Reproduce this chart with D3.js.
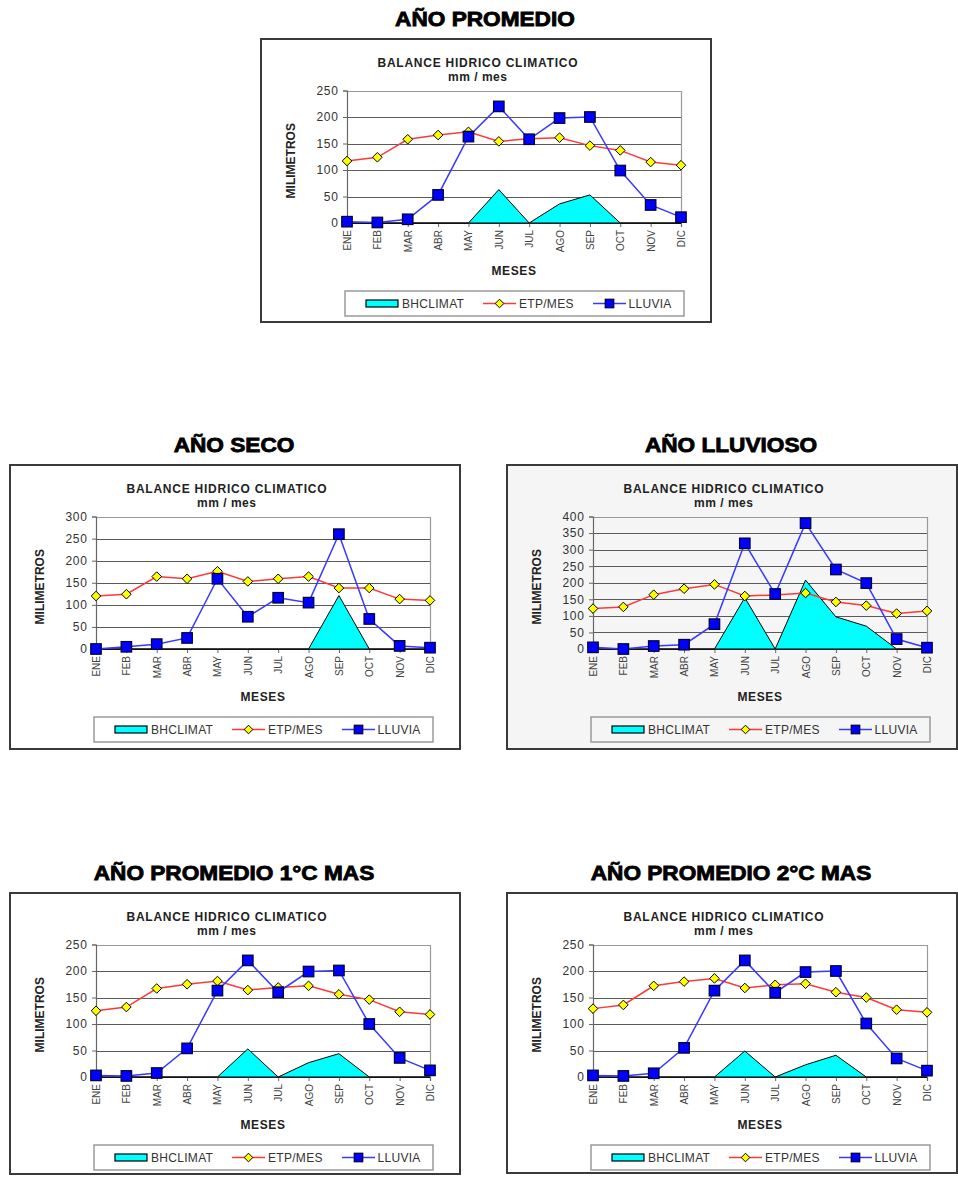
<!DOCTYPE html>
<html>
<head>
<meta charset="utf-8">
<script src="https://cdn.jsdelivr.net/npm/d3@7"></script>
<style>
  html, body { margin: 0; padding: 0; background: #ffffff; }
  svg { display: block; }
  text { font-family: "Liberation Sans", Arial, sans-serif; }
</style>
</head>
<body>
<svg id="chart" width="958" height="1177"></svg>
<script>
// Months (x categories)
const meses = ["ENE", "FEB", "MAR", "ABR", "MAY", "JUN", "JUL", "AGO", "SEP", "OCT", "NOV", "DIC"];

// Año promedio
const promedioETP    = [117, 124, 158, 166, 172, 154, 159, 161, 146, 137, 115, 109];
const promedioLluvia = [2.5, 1, 7, 53, 163, 220, 158, 198, 200, 99, 34, 11];
const promedioBH     = [0, 0, 0, 0, 0, 63, 0, 36, 53, 0, 0, 0];
const promedioTicks  = [0, 50, 100, 150, 200, 250];

// Año seco
const secoETP    = [120, 124, 164, 159, 176, 153, 159, 164, 138, 138, 113, 110];
const secoLluvia = [0, 5, 11, 25, 159, 73, 116, 105, 260, 68, 7, 3];
const secoBH     = [0, 0, 0, 0, 0, 0, 0, 0, 121, 0, 0, 0];
const secoTicks  = [0, 50, 100, 150, 200, 250, 300];

// Año lluvioso
const lluviosoETP    = [122, 127, 164, 182, 195, 160, 163, 169, 142, 131, 107, 115];
const lluviosoLluvia = [5, 0, 9, 13, 75, 319, 166, 380, 240, 199, 30, 4];
const lluviosoBH     = [0, 0, 0, 0, 0, 155, 0, 208, 97, 69, 0, 0];
const lluviosoTicks  = [0, 50, 100, 150, 200, 250, 300, 350, 400];

// Año promedio +1 °C
const mas1ETP    = [125, 132, 167, 175, 181, 164, 169, 172, 156, 146, 123, 118];
const mas1Lluvia = [3, 2, 7.5, 54, 163, 220, 160, 199, 201, 100, 36, 12.5];
const mas1BH     = [0, 0, 0, 0, 0, 53, 0, 27, 44, 0, 0, 0];
const mas1Ticks  = [0, 50, 100, 150, 200, 250];

// Año promedio +2 °C
const mas2ETP    = [129, 136, 172, 180, 186, 168, 174, 176, 160, 150, 127, 122];
const mas2Lluvia = [3, 2, 7, 55, 163, 220, 159, 198, 200, 101, 35, 12];
const mas2BH     = [0, 0, 0, 0, 0, 49, 0, 23, 41, 0, 0, 0];
const mas2Ticks  = [0, 50, 100, 150, 200, 250];

const legendLabels = ["BHCLIMAT", "ETP/MES", "LLUVIA"];

// Panel layout: heading, frame position, data
const panels = [
  { heading: "AÑO PROMEDIO",          x: 261, y: 39,  h: 283, etp: promedioETP, lluvia: promedioLluvia, bh: promedioBH, ticks: promedioTicks, bg: "#ffffff" },
  { heading: "AÑO SECO",              x: 10,  y: 465, h: 284, etp: secoETP,     lluvia: secoLluvia,     bh: secoBH,     ticks: secoTicks,     bg: "#ffffff" },
  { heading: "AÑO LLUVIOSO",          x: 507, y: 465, h: 284, etp: lluviosoETP, lluvia: lluviosoLluvia, bh: lluviosoBH, ticks: lluviosoTicks, bg: "#f5f5f5" },
  { heading: "AÑO PROMEDIO 1°C MAS",  x: 10,  y: 893, h: 281, etp: mas1ETP,     lluvia: mas1Lluvia,     bh: mas1BH,     ticks: mas1Ticks,     bg: "#ffffff" },
  { heading: "AÑO PROMEDIO 2°C MAS",  x: 507, y: 893, h: 280, etp: mas2ETP,     lluvia: mas2Lluvia,     bh: mas2BH,     ticks: mas2Ticks,     bg: "#ffffff" }
];

const svg = d3.select("#chart");
const FRAME_W = 450;

function stretchText(sel, factor) {
  sel.each(function () {
    const len = this.getComputedTextLength();
    d3.select(this).attr("textLength", len * factor).attr("lengthAdjust", "spacingAndGlyphs");
  });
}

function diamond(g, cx, cy, r) {
  g.append("path")
    .attr("d", `M${cx},${cy - r}L${cx + r},${cy}L${cx},${cy + r}L${cx - r},${cy}Z`)
    .attr("fill", "#ffff00").attr("stroke", "#000000").attr("stroke-width", 1);
}

function square(g, cx, cy, s) {
  g.append("rect")
    .attr("x", cx - s / 2).attr("y", cy - s / 2).attr("width", s).attr("height", s)
    .attr("fill", "#0000ff").attr("stroke", "#000033").attr("stroke-width", 1.2);
}

function drawPanel(p) {
  const g = svg.append("g").attr("transform", `translate(${p.x},${p.y})`);

  // heading above the frame
  const head = svg.append("text")
    .attr("x", p.x + FRAME_W / 2 - 1).attr("y", p.y - 13)
    .attr("text-anchor", "middle")
    .attr("font-size", 19.5).attr("font-weight", "bold")
    .attr("fill", "#000").attr("stroke", "#000").attr("stroke-width", 0.8)
    .text(p.heading);
  stretchText(head, 1.16);

  // frame
  g.append("rect").attr("x", 0).attr("y", 0).attr("width", FRAME_W).attr("height", p.h)
    .attr("fill", p.bg).attr("stroke", "#3a3a3a").attr("stroke-width", 2);

  const left = 86, right = 420, top = 51.5, bottom = 184;
  const x = d3.scalePoint().domain(meses).range([left, right]).padding(0);
  const ymax = p.ticks[p.ticks.length - 1];
  const y = d3.scaleLinear().domain([0, ymax]).range([bottom, top]);

  // chart title
  g.append("text").attr("x", 216.5).attr("y", 27.5).attr("text-anchor", "middle")
    .attr("font-size", 12).attr("font-weight", "bold").attr("fill", "#222")
    .attr("textLength", 200).attr("lengthAdjust", "spacing")
    .text("BALANCE HIDRICO CLIMATICO");
  g.append("text").attr("x", 216.5).attr("y", 41.5).attr("text-anchor", "middle")
    .attr("font-size", 12).attr("font-weight", "bold").attr("fill", "#222")
    .attr("textLength", 59).attr("lengthAdjust", "spacing")
    .text("mm / mes");

  // gridlines
  g.append("g").selectAll("line").data(p.ticks.filter(t => t > 0 && t < ymax)).join("line")
    .attr("x1", left).attr("x2", right)
    .attr("y1", d => Math.round(y(d)) + 0.5).attr("y2", d => Math.round(y(d)) + 0.5)
    .attr("stroke", "#5a5a5a").attr("stroke-width", 1);

  // plot border (top / right)
  g.append("path")
    .attr("d", `M${left},${Math.round(top) + 0.5}H${right + 0.5}V${bottom}`)
    .attr("fill", "none").attr("stroke", "#9a9a9a").attr("stroke-width", 1.2);

  // y axis
  const yAxis = d3.axisLeft(y).tickValues(p.ticks).tickSize(4).tickPadding(5).tickFormat(d3.format("d"));
  const ya = g.append("g").attr("transform", `translate(${left},0)`).call(yAxis);
  ya.select(".domain").attr("stroke", "#666").attr("stroke-width", 1.2);
  ya.selectAll(".tick line").attr("stroke", "#666");
  ya.selectAll(".tick text")
    .attr("font-family", "Liberation Sans, Arial, sans-serif")
    .attr("font-size", 12).attr("fill", "#333").attr("letter-spacing", 0.8)
    .attr("x", -9 + 0.8);

  // x axis
  const xAxis = d3.axisBottom(x).tickSize(4).tickPadding(0);
  const xa = g.append("g").attr("transform", `translate(0,${bottom})`).call(xAxis);
  xa.select(".domain").attr("stroke", "#444").attr("stroke-width", 1.2);
  xa.selectAll(".tick line").attr("stroke", "#666");
  xa.selectAll(".tick text")
    .attr("font-family", "Liberation Sans, Arial, sans-serif")
    .attr("font-size", 10).attr("fill", "#444")
    .attr("transform", "rotate(-90)")
    .attr("x", -7).attr("y", 0).attr("dy", "0.35em")
    .attr("text-anchor", "end");

  // axis titles
  g.append("text").attr("x", (left + right) / 2).attr("y", 236).attr("text-anchor", "middle")
    .attr("font-size", 12).attr("font-weight", "bold").attr("fill", "#222").attr("letter-spacing", 0.6)
    .text("MESES");
  g.append("text").attr("transform", `translate(34,${(top + bottom) / 2 + 4}) rotate(-90)`)
    .attr("text-anchor", "middle")
    .attr("font-size", 12).attr("font-weight", "bold").attr("fill", "#222")
    .text("MILIMETROS");

  // BHCLIMAT area
  const area = d3.area().x((d, i) => x(meses[i])).y0(y(0)).y1(d => y(d));
  g.append("path").datum(p.bh).attr("d", area)
    .attr("fill", "#00ffff").attr("stroke", "#000").attr("stroke-width", 1).attr("stroke-linejoin", "miter");

  // ETP/MES line
  const line = d3.line().x((d, i) => x(meses[i])).y(d => y(d));
  g.append("path").datum(p.etp).attr("d", line)
    .attr("fill", "none").attr("stroke", "#ff3838").attr("stroke-width", 1.5);
  const gEtp = g.append("g");
  p.etp.forEach((v, i) => diamond(gEtp, x(meses[i]), y(v), 4.8));

  // LLUVIA line
  g.append("path").datum(p.lluvia).attr("d", line)
    .attr("fill", "none").attr("stroke", "#3838ff").attr("stroke-width", 1.5);
  const gLl = g.append("g");
  p.lluvia.forEach((v, i) => square(gLl, x(meses[i]), y(v), 10.5));

  // legend
  const lg = g.append("g").attr("transform", "translate(84,252)");
  lg.append("rect").attr("x", 0).attr("y", 0).attr("width", 339).attr("height", 25)
    .attr("fill", p.bg).attr("stroke", "#9a9a9a").attr("stroke-width", 1.5);
  const cy = 12.5;
  lg.append("rect").attr("x", 21).attr("y", cy - 3.5).attr("width", 32).attr("height", 7)
    .attr("fill", "#00ffff").attr("stroke", "#000").attr("stroke-width", 1.2);
  lg.append("line").attr("x1", 138).attr("x2", 171).attr("y1", cy).attr("y2", cy)
    .attr("stroke", "#ff3838").attr("stroke-width", 1.5);
  diamond(lg, 154.5, cy, 4.3);
  lg.append("line").attr("x1", 248).attr("x2", 281).attr("y1", cy).attr("y2", cy)
    .attr("stroke", "#3838ff").attr("stroke-width", 1.5);
  square(lg, 264.5, cy, 8.5);
  const lx = [57, 174, 283.5];
  lg.selectAll("text.leg").data(legendLabels).join("text").attr("class", "leg")
    .attr("x", (d, i) => lx[i]).attr("y", cy + 4.3)
    .attr("font-size", 12).attr("fill", "#333").attr("letter-spacing", 0.3)
    .text(d => d);
}

panels.forEach(drawPanel);
</script>
</body>
</html>
